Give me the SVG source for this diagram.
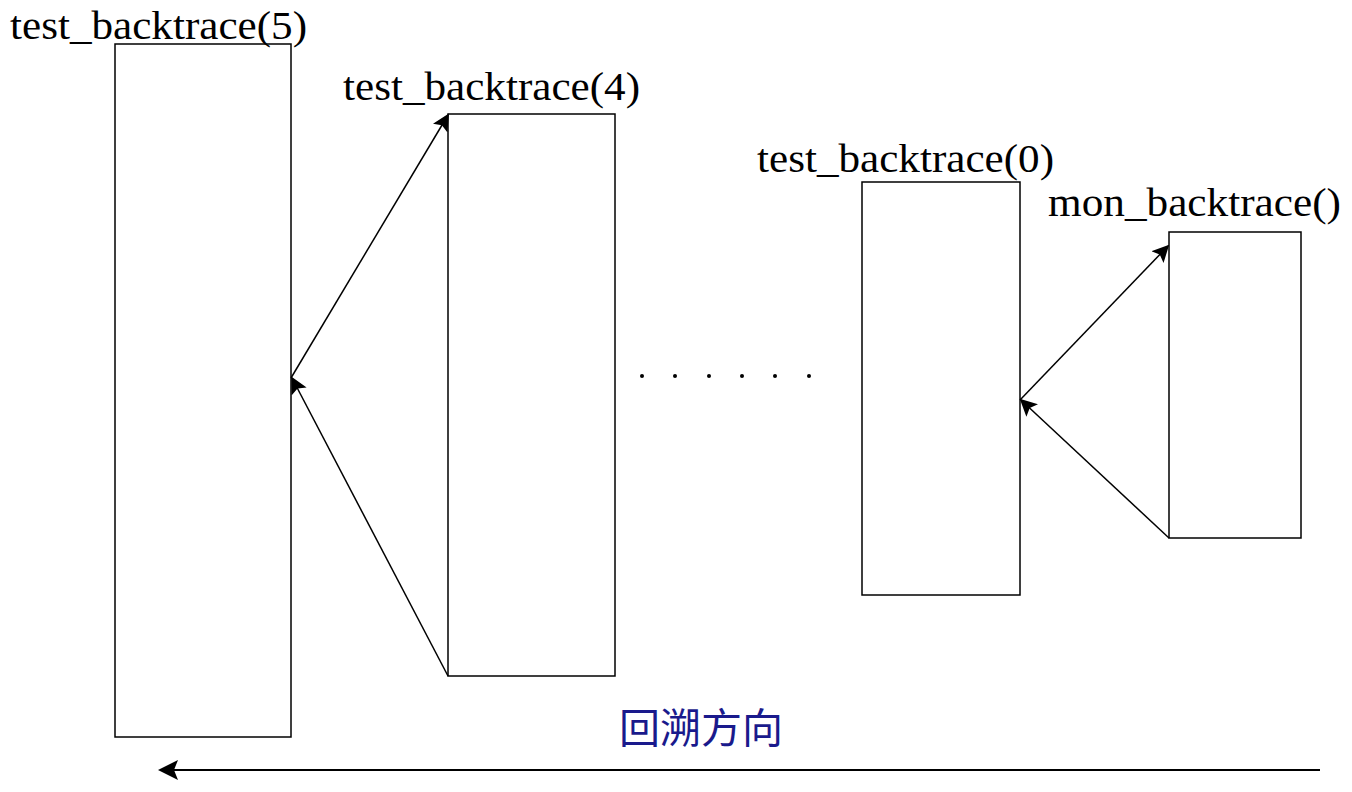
<svg xmlns="http://www.w3.org/2000/svg" width="1352" height="792" viewBox="0 0 1352 792">
<style>
.box{fill:#fff;stroke:#000;stroke-width:1.5}
.lbl{font-family:"Liberation Serif","Times New Roman",serif;font-size:41px;fill:#000}
.cn{font-family:"Noto Sans CJK SC",sans-serif;font-size:41px;fill:#1a1a8c}
.edge{stroke:#000;stroke-width:1.5;fill:none;marker-end:url(#ah)}
</style>
<defs>
<marker id="ah" viewBox="0 0 10 10" refX="9" refY="5" markerWidth="17" markerHeight="17" markerUnits="userSpaceOnUse" orient="auto">
<path d="M0,0 L10,5 L0,10 L2,5 Z" fill="#000"/>
</marker>
<marker id="ah2" viewBox="0 0 10 10" refX="9" refY="5" markerWidth="20" markerHeight="20" markerUnits="userSpaceOnUse" orient="auto">
<path d="M0,0 L10,5 L0,10 L2,5 Z" fill="#000"/>
</marker>
</defs>
<rect width="1352" height="792" fill="#fff"/>
<g id="n5"><rect class="box" x="115" y="44" width="176" height="693"/><text class="lbl" x="10" y="39" textLength="297" lengthAdjust="spacingAndGlyphs">test_backtrace(5)</text></g>
<g id="n4"><rect class="box" x="448" y="114" width="167" height="562"/><text class="lbl" x="343" y="100" textLength="297" lengthAdjust="spacingAndGlyphs">test_backtrace(4)</text></g>
<g id="n0"><rect class="box" x="862" y="182" width="158" height="413"/><text class="lbl" x="757" y="172" textLength="297" lengthAdjust="spacingAndGlyphs">test_backtrace(0)</text></g>
<g id="mon"><rect class="box" x="1169" y="232" width="132" height="306"/><text class="lbl" x="1048" y="216" textLength="293" lengthAdjust="spacingAndGlyphs">mon_backtrace()</text></g>
<g id="dots" fill="#000">
<circle cx="642" cy="376" r="2"/><circle cx="675" cy="376" r="2"/><circle cx="709" cy="376" r="2"/><circle cx="742" cy="376" r="2"/><circle cx="775" cy="376" r="2"/><circle cx="809" cy="376" r="2"/>
</g>
<g id="connectors">
<line class="edge" x1="448" y1="676" x2="292" y2="378"/>
<line class="edge" x1="291" y1="378" x2="448" y2="115"/>
<line class="edge" x1="1169" y1="538" x2="1021" y2="400"/>
<line class="edge" x1="1020" y1="400" x2="1168" y2="246"/>
<line x1="1320" y1="770" x2="160" y2="770" stroke="#000" stroke-width="2" marker-end="url(#ah2)"/>
</g>
<g id="direction"><text class="cn" x="619" y="743">回溯方向</text></g>
</svg>
